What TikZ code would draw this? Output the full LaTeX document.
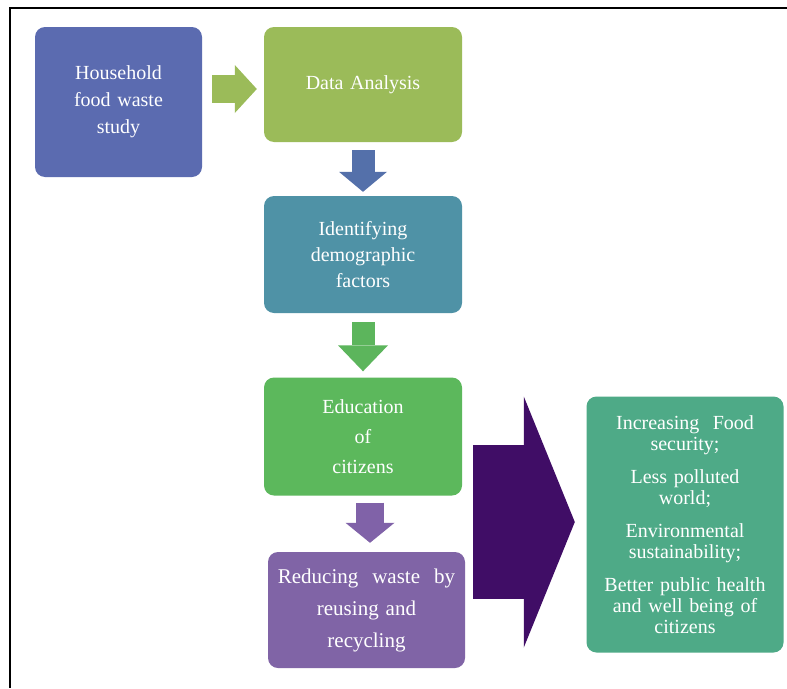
\documentclass[tikz,border=0pt]{standalone}
\usepackage{fontspec}
\setmainfont{Liberation Serif}
\usetikzlibrary{arrows.meta}
\definecolor{cHH}{RGB}{91,107,176}
\definecolor{cDA}{RGB}{155,187,89}
\definecolor{cBA}{RGB}{84,112,170}
\definecolor{cID}{RGB}{79,146,166}
\definecolor{cGA}{RGB}{92,181,92}
\definecolor{cED}{RGB}{92,184,92}
\definecolor{cPA}{RGB}{128,98,168}
\definecolor{cRE}{RGB}{128,100,166}
\definecolor{cBIG}{RGB}{64,13,102}
\definecolor{cRES}{RGB}{78,170,135}
\begin{document}
\begin{tikzpicture}[x=1pt,y=-1pt,
  box/.style={rectangle, rounded corners=10pt, inner sep=0pt, text=white, align=center},
  blk/.style n args={4}{draw=#1, line width=#2, line cap=butt,
    -{Triangle[width=#3,length=#4,line width=0pt]}}]
\useasboundingbox (0,0) rectangle (787,688);
\fill[white] (0,0) rectangle (787,688);
\draw[line width=2.5pt] (787,8) -- (10,8) -- (10,688);

\node[box, fill=cHH, minimum width=167pt, minimum height=150pt, text width=150pt,
  font=\fontsize{20}{27}\selectfont] (hh) at (118.5,102) {Household\\ food waste\\ study};
\node[box, fill=cDA, minimum width=198pt, minimum height=115pt, text width=180pt,
  font=\fontsize{20}{27}\selectfont] (da) at (363,84.5) {Data Analysis};
\node[box, fill=cID, minimum width=198pt, minimum height=117pt, text width=180pt,
  font=\fontsize{20}{26}\selectfont] (id) at (363,254.5) {Identifying\\ demographic\\ factors};
\node[box, fill=cED, minimum width=198pt, minimum height=118pt, text width=180pt,
  font=\fontsize{20}{30}\selectfont] (ed) at (363,436.5) {Education\\ of\\ citizens};
\node[box, fill=cRE, minimum width=197pt, minimum height=116pt, text width=185pt,
  font=\fontsize{21}{32}\selectfont] (re) at (366.5,610) {Reducing\ \ waste\ \ by\\ reusing and\\ recycling};
\node[box, fill=cRES, minimum width=197pt, minimum height=256pt, text width=185pt,
  font=\fontsize{20}{21}\selectfont] (res) at (685,524.5)
  {Increasing\ \ Food\\ security;\\[12pt] Less polluted\\ world;\\[12pt] Environmental\\ sustainability;\\[12pt] Better\ public\ health\\ and\ well\ being\ of\\ citizens};

\draw[blk={cDA}{28pt}{48pt}{22pt}, shorten <=10pt, shorten >=7pt] (hh.east |- 0,89) -- (da.west |- 0,89);
\draw[blk={cBA}{23pt}{48pt}{20pt}, shorten <=8pt, shorten >=4pt] (da.south) -- (id.north);
\draw[blk={cGA}{23pt}{50pt}{26pt}, shorten <=9pt, shorten >=6pt] (id.south) -- (ed.north);
\draw[blk={cPA}{28pt}{49pt}{20pt}, shorten <=7pt, shorten >=9pt] (ed.south -| 370,0) -- (re.north -| 370,0);
\draw[blk={cBIG}{154pt}{251pt}{51pt}, shorten <=11pt, shorten >=11.5pt] (ed.east |- 0,522) -- (res.west |- 0,522);
\end{tikzpicture}
\end{document}
